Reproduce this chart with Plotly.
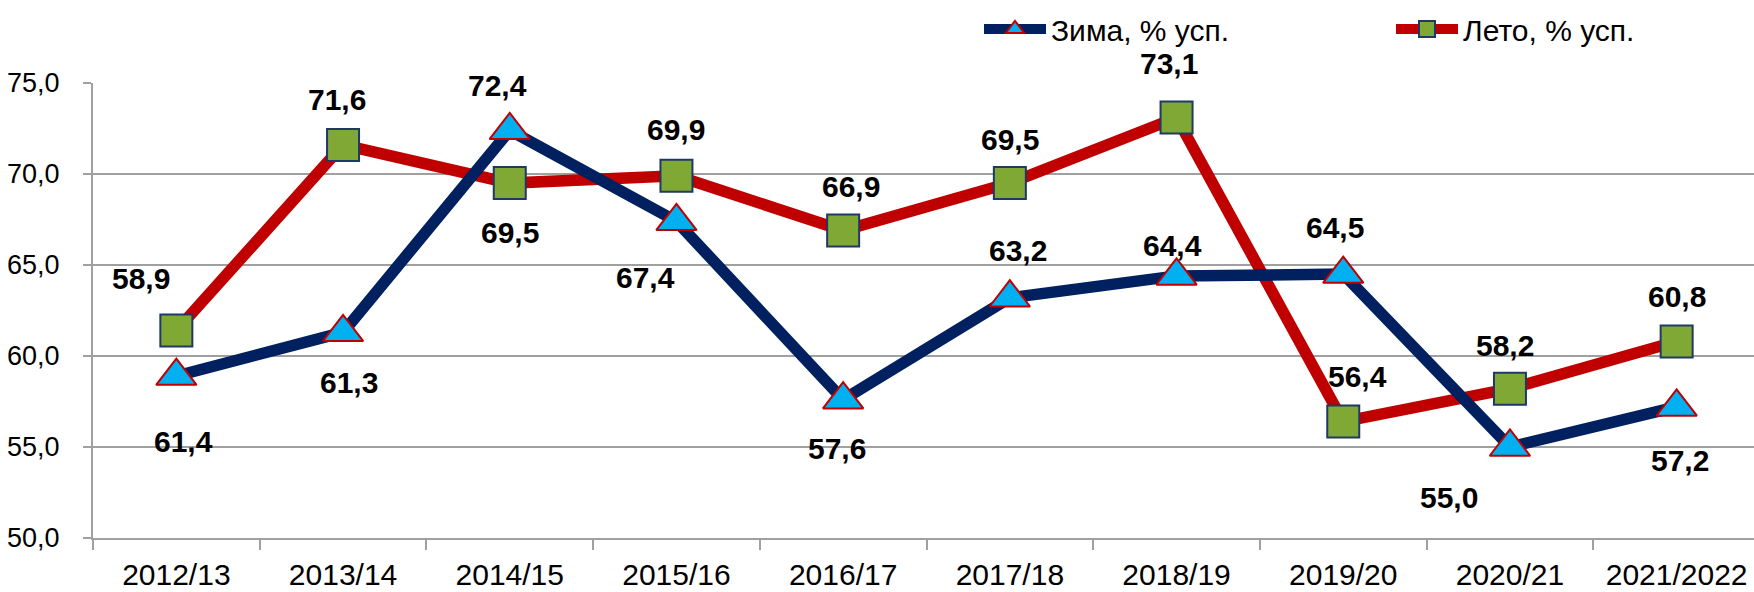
import plotly.graph_objects as go

# ---- data ----
seasons = ["2012/13", "2013/14", "2014/15", "2015/16", "2016/17",
           "2017/18", "2018/19", "2019/20", "2020/21", "2021/2022"]
winter = [58.9, 61.3, 72.4, 67.4, 57.6, 63.2, 64.4, 64.5, 55.0, 57.2]
summer = [61.4, 71.6, 69.5, 69.9, 66.9, 69.5, 73.1, 56.4, 58.2, 60.8]
winter_name = "Зима, % усп."
summer_name = "Лето, % усп."

# label placement (pixel offsets from the point: dx right, dy down)
winter_lbl_off = [(-35, -98), (6, 50), (-12, -45), (-31, 56), (-6, 49),
                  (8, -47), (-4, -30), (-8, -47), (-61, 50), (3, 54)]
summer_lbl_off = [(7, 111), (-6, -45), (0, 49), (0, -46), (8, -44),
                  (0, -44), (-8, -54), (14, -45), (-5, -43), (0, -45)]

FONT = "Liberation Sans, Arial, sans-serif"
W, H = 1754, 592
L, T, B = 93, 83, 54
CAT_PX = 166.7
plot_w = W - L

fig = go.Figure()
fig.add_trace(go.Scatter(
    x=seasons, y=summer, name=summer_name, mode="lines+markers",
    line=dict(color="#C00000", width=11.5),
    marker=dict(symbol="square", size=32, color="#80A834",
                line=dict(color="#1F3864", width=2)),
))
fig.add_trace(go.Scatter(
    x=seasons, y=winter, name=winter_name, mode="lines+markers",
    line=dict(color="#002060", width=11.5),
    marker=dict(symbol="triangle-up", size=35, color="#00B0F0",
                line=dict(color="#C00000", width=2)),
))

def fmt(v):
    return f"{v:.1f}".replace(".", ",")

ann = []
for vals, offs in ((winter, winter_lbl_off), (summer, summer_lbl_off)):
    for s, v, (dx, dy) in zip(seasons, vals, offs):
        ann.append(dict(x=s, y=v, xref="x", yref="y", text=fmt(v),
                        showarrow=False, xshift=dx, yshift=-dy,
                        font=dict(family=FONT, size=30, color="black",
                                  weight="bold")))

fig.update_layout(
    width=W, height=H,
    margin=dict(l=L, r=0, t=T, b=B, pad=0),
    paper_bgcolor="white", plot_bgcolor="white",
    separators=", ",
    font=dict(family=FONT, color="black"),
    annotations=ann,
    showlegend=True,
    legend=dict(orientation="h", xref="container", yref="container",
                x=979 / W, y=0.995, xanchor="left", yanchor="top",
                traceorder="reversed", font=dict(family=FONT, size=30),
                entrywidth=335, entrywidthmode="pixels",
                bgcolor="rgba(0,0,0,0)", borderwidth=0, itemwidth=62),
)
fig.update_xaxes(
    type="category", range=[-0.5, -0.5 + plot_w / CAT_PX],
    showgrid=False, showline=True, linecolor="#A0A0A0", linewidth=2,
    ticks="outside", ticklen=10, tickcolor="#A0A0A0", tickwidth=2,
    tickson="boundaries", tickfont=dict(family=FONT, size=30, color="black"),
    ticklabelstandoff=9,
)
fig.update_yaxes(
    range=[50, 75], tickvals=[50, 55, 60, 65, 70, 75], tickformat=".1f",
    showgrid=True, gridcolor="#A0A0A0", gridwidth=2, zeroline=False,
    showline=True, linecolor="#A0A0A0", linewidth=2,
    ticks="outside", ticklen=8, tickcolor="#A0A0A0", tickwidth=2,
    tickfont=dict(family=FONT, size=27, color="black"),
    ticklabelstandoff=18,
)

fig.write_html("out.html")
